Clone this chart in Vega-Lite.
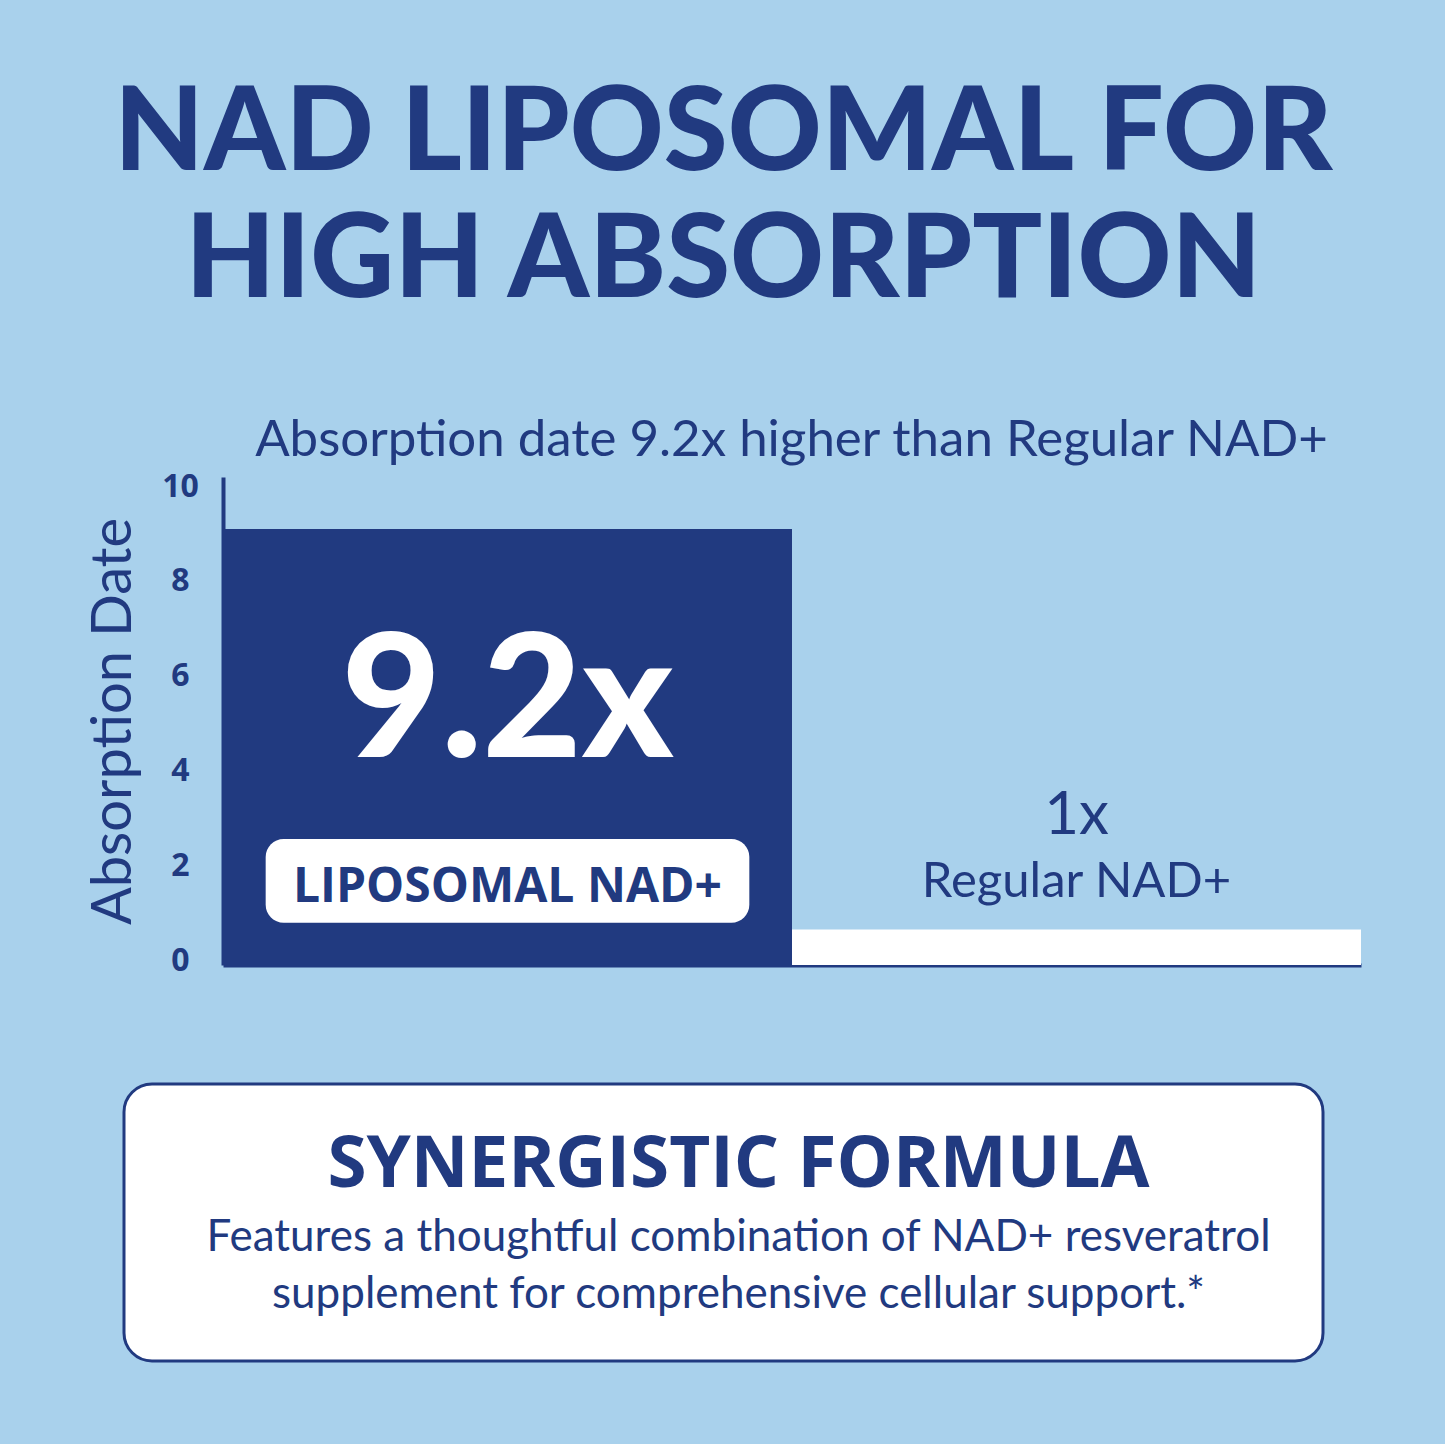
{
  "$schema": "https://vega.github.io/schema/vega-lite/v6.json",
  "background": "#a9d1ec",
  "padding": {"left": 85, "top": 77, "right": 85, "bottom": 81},
  "title": {
    "text": ["NAD LIPOSOMAL FOR", "HIGH ABSORPTION"],
    "anchor": "middle",
    "font": "Lato",
    "fontSize": 116,
    "fontWeight": 900,
    "color": "#213a80",
    "lineHeight": 127,
    "offset": 94
  },
  "datasets": {
    "bars": [
      {"product": "LIPOSOMAL NAD+", "value": 9.2, "multiplier": "9.2x"},
      {"product": "Regular NAD+", "value": 0.75, "multiplier": "1x"}
    ],
    "note": [
      {"heading": "SYNERGISTIC FORMULA", "body": "Features a thoughtful combination of NAD+ resveratrol\nsupplement for comprehensive cellular support.*"}
    ]
  },
  "vconcat": [
    {
      "width": 1237,
      "height": 488,
      "title": {
        "text": "Absorption date 9.2x higher than Regular NAD+",
        "anchor": "middle",
        "frame": "group",
        "font": "Lato",
        "fontSize": 51,
        "fontWeight": "normal",
        "color": "#213a80",
        "offset": 3,
        "dx": 49
      },
      "data": {"name": "bars"},
      "encoding": {
        "x": {
          "field": "product",
          "type": "nominal",
          "sort": null,
          "scale": {"paddingInner": 0, "paddingOuter": 0, "range": [99, 1237]},
          "axis": {"labels": false, "ticks": false, "title": null, "domainColor": "#213a80", "domainWidth": 4}
        }
      },
      "layer": [
        {
          "mark": {"type": "bar"},
          "encoding": {
            "y": {
              "field": "value",
              "type": "quantitative",
              "scale": {"domain": [0, 10.3], "nice": false},
              "axis": {
                "values": [0, 2, 4, 6, 8, 10],
                "offset": -99,
                "ticks": false,
                "grid": false,
                "domainColor": "#213a80",
                "domainWidth": 4,
                "labelFont": "Open Sans",
                "labelFontSize": 32,
                "labelFontWeight": "bold",
                "labelColor": "#213a80",
                "labelAlign": "center",
                "labelPadding": 43,
                "labelOffset": -5,
                "title": "Absorption Date",
                "titleFont": "Lato",
                "titleFontSize": 56,
                "titleFontWeight": "normal",
                "titleColor": "#213a80",
                "titlePadding": 19
              }
            },
            "color": {
              "field": "product",
              "type": "nominal",
              "scale": {"range": ["#213a80", "#ffffff"]},
              "legend": null
            }
          }
        },
        {
          "transform": [{"filter": "datum.product === 'LIPOSOMAL NAD+'"}],
          "mark": {"type": "bar", "color": "#ffffff", "cornerRadius": 18, "width": {"band": 0.85}},
          "encoding": {
            "y": {"datum": 2.66, "type": "quantitative"},
            "y2": {"datum": 0.89}
          }
        },
        {
          "transform": [{"filter": "datum.product === 'LIPOSOMAL NAD+'"}],
          "mark": {"type": "text", "font": "Lato", "fontWeight": 900, "fontSize": 172, "color": "#ffffff", "baseline": "alphabetic", "align": "center"},
          "encoding": {
            "y": {"datum": 4.39, "type": "quantitative"},
            "text": {"field": "multiplier"}
          }
        },
        {
          "transform": [{"filter": "datum.product === 'LIPOSOMAL NAD+'"}],
          "mark": {"type": "text", "font": "Open Sans", "fontWeight": "bold", "fontSize": 48, "color": "#213a80", "baseline": "alphabetic", "align": "center"},
          "encoding": {
            "y": {"datum": 1.33, "type": "quantitative"},
            "text": {"field": "product"}
          }
        },
        {
          "transform": [{"filter": "datum.product === 'Regular NAD+'"}],
          "mark": {"type": "text", "font": "Lato", "fontSize": 60, "color": "#213a80", "baseline": "alphabetic", "align": "center"},
          "encoding": {
            "y": {"datum": 2.76, "type": "quantitative"},
            "text": {"field": "multiplier"}
          }
        },
        {
          "transform": [{"filter": "datum.product === 'Regular NAD+'"}],
          "mark": {"type": "text", "font": "Lato", "fontSize": 49, "color": "#213a80", "baseline": "alphabetic", "align": "center"},
          "encoding": {
            "y": {"datum": 1.43, "type": "quantitative"},
            "text": {"field": "product"}
          }
        }
      ]
    },
    {
      "width": 1199,
      "height": 277,
      "view": {"fill": "#ffffff", "stroke": "#213a80", "strokeWidth": 3, "cornerRadius": 28},
      "data": {"name": "note"},
      "layer": [
        {
          "mark": {"type": "text", "font": "Open Sans", "fontWeight": "bold", "fontSize": 71, "color": "#213a80", "baseline": "alphabetic", "align": "center", "dx": 15, "dy": -36},
          "encoding": {"text": {"field": "heading"}}
        },
        {
          "mark": {"type": "text", "font": "Lato", "fontSize": 44, "lineHeight": 57, "lineBreak": "\n", "color": "#213a80", "baseline": "alphabetic", "align": "center", "dx": 15, "dy": 28},
          "encoding": {"text": {"field": "body"}}
        }
      ]
    }
  ],
  "spacing": 119,
  "bounds": "flush",
  "config": {
    "view": {"stroke": null}
  }
}
